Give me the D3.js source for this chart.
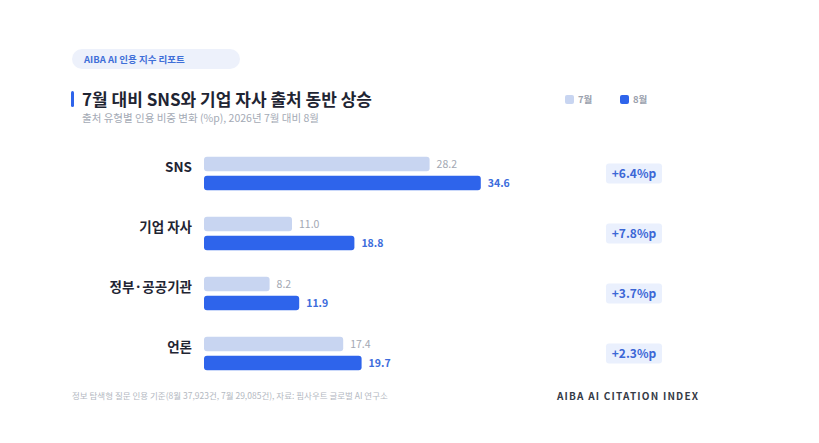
<!DOCTYPE html>
<html><head><meta charset="utf-8">
<script src="https://cdn.jsdelivr.net/npm/d3@7"></script>
<style>
html,body{margin:0;padding:0;background:#fff;}
svg{display:block;font-family:"Noto Sans CJK KR","Noto Sans",sans-serif;}
</style></head>
<body>
<svg id="c" width="819" height="443"></svg>
<script>
const categories = ["SNS", "기업 자사", "정부·공공기관", "언론"];
const july = [28.2, 11.0, 8.2, 17.4];
const august = [34.6, 18.8, 11.9, 19.7];
const changes = ["+6.4%p", "+7.8%p", "+3.7%p", "+2.3%p"];
const seriesNames = ["7월", "8월"];

const svg = d3.select("#c");
const lightC = "#c8d5f1", darkC = "#2e64eb";

// header pill
svg.append("rect").attr("x",72).attr("y",49).attr("width",168).attr("height",20).attr("rx",10).attr("fill","#edf1fb");
svg.append("text").attr("x",84).attr("y",62.5).attr("font-size",9.5).attr("font-weight",700).attr("fill","#3f6fd8").text("AIBA AI 인용 지수 리포트");

// title
svg.append("rect").attr("x",71).attr("y",91).attr("width",3).attr("height",16).attr("rx",1.5).attr("fill","#2e64eb");
svg.append("text").attr("x",82).attr("y",106).attr("font-size",17).attr("font-weight",700).attr("fill","#1f2533").text("7월 대비 SNS와 기업 자사 출처 동반 상승");
svg.append("text").attr("x",82).attr("y",122).attr("font-size",10.5).attr("fill","#a4aab5").text("출처 유형별 인용 비중 변화 (%p), 2026년 7월 대비 8월");

// legend
const lg = svg.append("g");
[[565, lightC, seriesNames[0]], [620, darkC, seriesNames[1]]].forEach(([x,c,t])=>{
  lg.append("rect").attr("x",x).attr("y",95).attr("width",9).attr("height",9).attr("rx",2).attr("fill",c);
  lg.append("text").attr("x",x+13).attr("y",103).attr("font-size",9.5).attr("font-weight",700).attr("fill","#9aa1ad").text(t);
});

// scales
const x = d3.scaleLinear().domain([0,40]).range([204,524]);
const y = d3.scaleBand().domain(categories).range([143.5,383.5]).paddingInner(0).paddingOuter(0);
const barH = 14.5, gap = 4.5;

const g = svg.append("g");
categories.forEach((cat,i)=>{
  const top = y(cat) + (y.bandwidth() - (2*barH+gap))/2;
  g.append("text").attr("x",192).attr("y",top+barH/2+8).attr("text-anchor","end")
    .attr("font-size",13.5).attr("font-weight",700).attr("fill","#1f2533").text(cat);
  g.append("rect").attr("x",x(0)).attr("y",top).attr("width",x(july[i])-x(0)).attr("height",barH).attr("rx",3).attr("fill",lightC);
  g.append("rect").attr("x",x(0)).attr("y",top+barH+gap).attr("width",x(august[i])-x(0)).attr("height",barH).attr("rx",3).attr("fill",darkC);
  g.append("text").attr("x",x(july[i])+7).attr("y",top+barH/2+4).attr("font-size",10.5).attr("fill","#a3a8b3").text(july[i].toFixed(1));
  g.append("text").attr("x",x(august[i])+7).attr("y",top+barH+gap+barH/2+4).attr("font-size",10.5).attr("font-weight",700).attr("fill","#3d6ddc").text(august[i].toFixed(1));
  const cy = top + barH + gap/2;
  g.append("rect").attr("x",606).attr("y",cy-10).attr("width",56).attr("height",20).attr("rx",3).attr("fill","#eaf0fd");
  g.append("text").attr("x",634).attr("y",cy+4.5).attr("text-anchor","middle").attr("font-size",12).attr("font-weight",700).attr("fill","#3c67d6").text(changes[i]);
});

// footer
svg.append("text").attr("x",72).attr("y",399).attr("font-size",8.5).attr("fill","#b3b8c1").text("정보 탐색형 질문 인용 기준(8월 37,923건, 7월 29,085건), 자료: 핌사우트 글로벌 AI 연구소");
svg.append("text").attr("x",557).attr("y",400).attr("font-size",10).attr("font-weight",700).attr("letter-spacing",1.2).attr("fill","#353b47").text("AIBA AI CITATION INDEX");
</script>
</body></html>
